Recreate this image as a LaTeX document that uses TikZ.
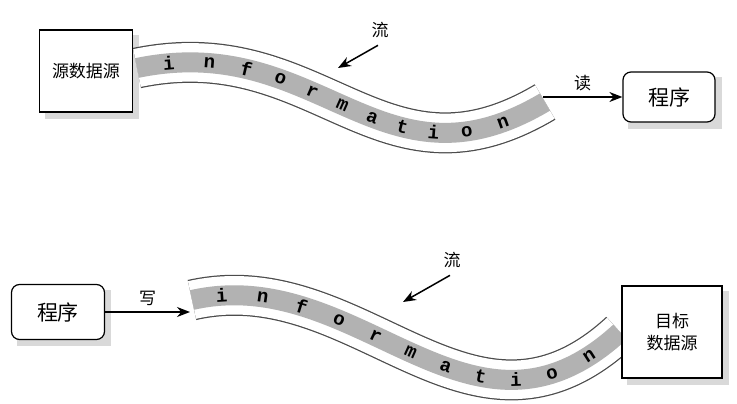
\documentclass[tikz,border=0pt]{standalone}
\usepackage{fontspec}
\setmainfont{Noto Sans CJK SC}
\newfontfamily\streamfont{Liberation Mono}
\usetikzlibrary{arrows.meta,backgrounds}
\tikzset{
    box/.style={draw, line width=1.2pt, fill=white, align=center, font=\fontsize{17}{22}\selectfont},
    shade box/.style={fill=gray!30},
    letter/.style={sloped, font=\streamfont\bfseries\fontsize{19}{20}\selectfont},
    label/.style={font=\fontsize{17}{20}\selectfont},
    flow/.style={-{Stealth[length=13pt,width=10pt]}, line width=1.5pt}
}
\begin{document}
\begin{tikzpicture}[x=1pt,y=-1pt]
    \useasboundingbox (0,0) rectangle (737,404);

    % Top stream
    \def\toppath{(137,68) .. controls (320,30) and (380,200) .. (545,102)}
    \draw[line width=41pt, black!70] \toppath;
    \draw[line width=38.5pt, white] \toppath;
    \draw[line width=20pt, gray!60] \toppath;
    \path \toppath
        \foreach \c [count=\i] in {i,n,f,o,r,m,a,t,i,o,n}
        { node[letter, pos=0.06+(\i-1)*0.085] {\c} };

    \node[box, minimum width=93pt, minimum height=82pt] (src) at (86,71) {源数据源};
    \node[box, rounded corners=8pt, minimum width=92pt, minimum height=50pt, font=\fontsize{21}{24}\selectfont] (prog) at (669,97) {程序};

    \node[label] (flowa) at (380,30) {流};
    \coordinate (flowaend) at (338,68);
    \draw[flow] (flowa.south) ++(-2,4) -- (flowaend);

    \coordinate (reada) at (543,97);
    \draw[flow] (reada) -- (reada -| prog.west) node[label, midway, above=2pt] {读};

    % Bottom stream
    \def\botpath{(192,300) .. controls (360,262) and (470,470) .. (620,332)}
    \draw[line width=41pt, black!70] \botpath;
    \draw[line width=38.5pt, white] \botpath;
    \draw[line width=20pt, gray!60] \botpath;
    \path \botpath
        \foreach \c [count=\i] in {i,n,f,o,r,m,a,t,i,o,n}
        { node[letter, pos=0.06+(\i-1)*0.087] {\c} };

    \node[box, rounded corners=8pt, minimum width=93pt, minimum height=55pt, font=\fontsize{21}{24}\selectfont] (progb) at (58,312) {程序};
    \node[box, minimum width=100pt, minimum height=92pt] (dst) at (672,332) {目标\\数据源};

    \node[label] (flowb) at (452,260) {流};
    \coordinate (flowbend) at (403,302);
    \draw[flow] (flowb.south) ++(-2,4) -- (flowbend);

    \coordinate (writeb) at (190,312);
    \draw[flow] (progb.east) -- (writeb) node[label, midway, above=2pt] {写};

    % Shadows
    \begin{scope}[on background layer]
        \foreach \b in {src,prog,progb,dst}
            \fill[shade box] ([shift={(6,6)}]\b.north west) rectangle ([shift={(6,6)}]\b.south east);
    \end{scope}
\end{tikzpicture}
\end{document}
